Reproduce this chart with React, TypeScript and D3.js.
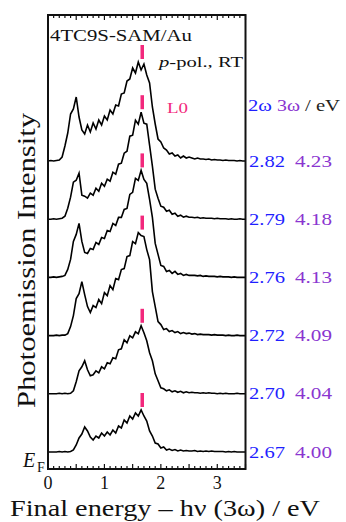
import React from 'react';
import * as d3 from 'd3';

// final energy grid (eV), sampled every 0.05 eV
const energy = d3.range(0, 71).map(i => +(i * 0.05).toFixed(2));

// photoemission intensity (arb. units), bottom trace first
const spec267 = [0, 0, 0, 0, 0.5, 0, 0.5, 0, 0.5, 2, 7,
  14, 18, 25, 21, 15, 12, 16, 14, 19, 16,
  20, 17, 22, 19, 26, 24, 32, 29, 36, 33,
  39, 36, 42, 36, 31, 21, 16, 9, 8, 4,
  5, 2, 3, 1.5, 2.5, 1, 2, 1, 1.5, 1,
  1, 1.5, 0.5, 1, 0.5, 1, 0.5, 1, 0.5, 0.5,
  0.5, 0.5, 0, 0.5, 0, 0.5, 0, 0, 0, 0];
const spec270 = [0, 0, 0, 0, 0.5, 0, 0.5, 0, 0.5, 3, 12,
  23, 27, 33, 24, 18, 19, 23, 21, 27, 25,
  31, 30, 36, 35, 44, 45, 54, 51, 58, 56,
  62, 60, 68, 61, 53, 41, 33, 20, 13, 6,
  5, 3, 4, 2, 3, 1.5, 2.5, 1, 2, 1,
  1.5, 1, 1, 0.5, 1, 0.5, 1, 0.5, 0.5, 0,
  0.5, 0, 0.5, 0, 0, 0, 0.5, 0, 0, 0];
const spec272 = [0, 0, 0, 0.5, 0, 0.5, 0.5, 2, 9, 20, 37,
  42, 54, 41, 29, 23, 30, 28, 36, 32, 43,
  40, 50, 46, 57, 56, 66, 67, 79, 80, 94,
  92, 103, 100, 99, 86, 76, 44, 29, 14, 11,
  6, 7, 4, 5, 3, 4, 2, 3, 2, 2.5,
  1.5, 2, 1, 1.5, 1, 1, 1, 0.5, 1, 0.5,
  0.5, 0.5, 0, 0.5, 0, 0, 0.5, 0, 0, 0];
const spec276 = [0, 0, 0.5, 0, 0.5, 1, 2, 8, 18, 36, 43,
  54, 36, 25, 24, 29, 28, 35, 33, 40, 39,
  47, 46, 54, 52, 60, 60, 68, 69, 83, 85,
  99, 97, 107, 98, 94, 78, 60, 34, 23, 12,
  11, 6, 7, 4, 6, 3, 4, 2, 3, 2,
  2, 2, 1.5, 2, 1, 1.5, 1, 1, 1, 0.5,
  1, 0.5, 0.5, 0.5, 0, 0.5, 0, 0, 0, 0];
const spec279 = [0, 0, 0.5, 0, 0.5, 1, 3, 11, 22, 37, 39,
  46, 24, 23, 21, 26, 24, 31, 28, 36, 33,
  40, 38, 47, 45, 55, 56, 66, 68, 83, 84,
  99, 95, 107, 96, 95, 74, 53, 30, 21, 13,
  12, 8, 9, 5, 6, 3, 4, 2, 3, 2,
  2, 1.5, 2, 1, 1.5, 1, 1, 1, 0.5, 1,
  0.5, 0.5, 0.5, 0, 0.5, 0, 0, 0.5, 0, 0];
const spec282 = [0, 0.5, 0, 0.5, 1, 4, 15, 28, 47, 52, 64,
  44, 31, 27, 36, 29, 38, 32, 41, 36, 45,
  41, 51, 47, 56, 55, 67, 68, 80, 82, 93,
  88, 99, 91, 97, 86, 78, 54, 37, 22, 19,
  13, 11, 7, 8, 5, 6, 3, 5, 3, 4,
  3, 2, 3, 2, 2, 1.5, 2, 1, 1.5, 1,
  1, 0.5, 1, 0.5, 0.5, 0.5, 0, 0.5, 0, 0];

const spectra = [spec267, spec270, spec272, spec276, spec279, spec282];
const twoOmega = ['2.67', '2.70', '2.72', '2.76', '2.79', '2.82'];
const threeOmega = ['4.00', '4.04', '4.09', '4.13', '4.18', '4.23'];
const peakL0 = 1.67; // eV
const xTickLabels = [0, 1, 2, 3];

const W = 346;
const H = 522;
const left = 48, right = 245.5, top = 15, bottom = 469;
const step = 58.2;
const serif = 'Liberation Serif';
const pink = '#f2287c';
const blue = '#1f1fff';
const purple = '#8a35d0';
const ink = '#111';

export default function App() {
  const x = d3.scaleLinear().domain([0, 3.5]).range([left, right]);
  const y = d3.scaleLinear().domain([-17, 437]).range([bottom, top]);

  const line = (off: number) =>
    d3.line<number>()
      .x((_, i) => x(energy[i]))
      .y(v => y(off + v));

  const ticks = x.ticks(35);
  const T = (p: any) => <text fontFamily={serif} fill={ink} {...p} />;

  return (
    <svg width={W} height={H} style={{ position: 'absolute', left: 0, top: 0, background: '#fff' }}>
      {/* traces */}
      {spectra.map((s, k) => {
        const off = k * step;
        const peak = d3.max(s) as number;
        return (
          <g key={k}>
            <path d={line(off)(s) || ''} fill="none" stroke="#000" strokeWidth={1.6} strokeLinejoin="miter" />
            <line x1={x(peakL0)} x2={x(peakL0)} y1={y(off + peak + 3)} y2={y(off + peak + 17)}
              stroke={pink} strokeWidth={3.5} />
            <T x={249} y={y(off) + 5.5} fontSize={17.5} fill={blue} textLength={36} lengthAdjust="spacingAndGlyphs">{twoOmega[k]}</T>
            <T x={295} y={y(off) + 5.5} fontSize={17.5} fill={purple} textLength={37} lengthAdjust="spacingAndGlyphs">{threeOmega[k]}</T>
          </g>
        );
      })}

      {/* frame */}
      <rect x={left} y={top} width={right - left} height={bottom - top} fill="none" stroke={ink} strokeWidth={2} />
      {ticks.map((t, i) => {
        const len = Math.abs(t * 2 - Math.round(t * 2)) < 1e-6 ? 5 : 3;
        return (
          <g key={i}>
            <line x1={x(t)} x2={x(t)} y1={bottom} y2={bottom - len} stroke={ink} strokeWidth={1.2} />
            <line x1={x(t)} x2={x(t)} y1={top} y2={top + len} stroke={ink} strokeWidth={1.2} />
          </g>
        );
      })}
      {xTickLabels.map(t => (
        <T key={t} x={x(t)} y={489} fontSize={18} textAnchor="middle">{t}</T>
      ))}

      {/* labels */}
      <T x={50} y={41} fontSize={17} textLength={142} lengthAdjust="spacingAndGlyphs">4TC9S-SAM/Au</T>
      <T x={159} y={67} fontSize={15.5} textLength={84} lengthAdjust="spacingAndGlyphs">
        <tspan fontStyle="italic">p</tspan>-pol., RT
      </T>
      <T x={167} y={113} fontSize={15.5} fill={pink} textLength={21} lengthAdjust="spacingAndGlyphs">L0</T>
      <T x={248} y={111} fontSize={16.5} fill={blue} textLength={24} lengthAdjust="spacingAndGlyphs">2ω</T>
      <T x={277} y={111} fontSize={16.5} fill={purple} textLength={23} lengthAdjust="spacingAndGlyphs">3ω</T>
      <T x={305} y={111} fontSize={16.5} fill="#222" textLength={35} lengthAdjust="spacingAndGlyphs">/ eV</T>

      <T transform="translate(35,260.5) rotate(-90)" fontSize={25} textAnchor="middle"
        textLength={295} lengthAdjust="spacingAndGlyphs">Photoemission Intensity</T>

      <T x={23} y={467} fontSize={20} fontStyle="italic">E</T>
      <T x={37} y={472} fontSize={14}>F</T>

      <T x={165} y={516} fontSize={23} textAnchor="middle"
        textLength={310} lengthAdjust="spacingAndGlyphs">Final energy – hν (3ω) / eV</T>
    </svg>
  );
}
